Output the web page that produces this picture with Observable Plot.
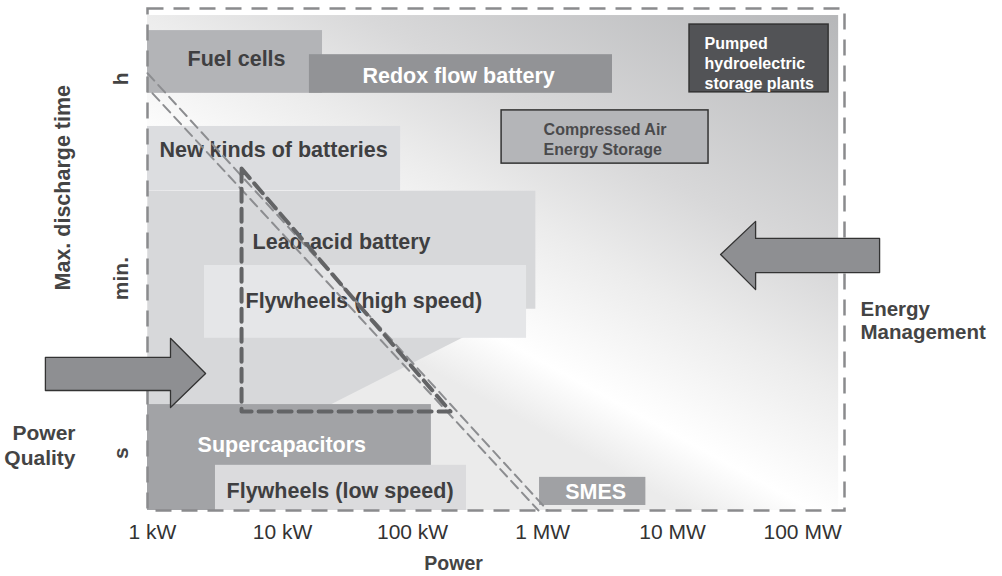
<!DOCTYPE html>
<html><head><meta charset="utf-8">
<script src="https://cdn.jsdelivr.net/npm/d3@7"></script>
<script src="https://cdn.jsdelivr.net/npm/@observablehq/plot@0.6"></script>
<style>
body{margin:0;background:#fff;}
#chart svg{display:block;}
</style></head><body><div id="chart"></div>
<script>
// ---- data (power in kW, discharge time on a 0-100 conceptual scale) ----
const powerTickValues = [1, 10, 100, 1000, 10000, 100000];
const powerTickLabels = ["1 kW", "10 kW", "100 kW", "1 MW", "10 MW", "100 MW"];
const timeTickValues = [11.4, 46.2, 86];
const timeTickLabels = ["s", "min.", "h"];
const powerDomain = [0.915, 210000];
const timeDomain = [0, 100];

const boxNames = ["Fuel cells", "Redox flow battery", "New kinds of batteries", "Flywheels (high speed)",
  "Supercapacitors", "Flywheels (low speed)", "SMES", "Compressed Air Energy Storage", "Pumped hydroelectric storage plants"];
const boxPowerMin = [0.915, 16.1, 0.915, 2.51, 0.915, 3.05, 948, 484, 13500];
const boxPowerMax = [20.3, 3450, 80.9, 753, 139.6, 260, 6230, 18900, 158500];
const boxTimeMin  = [83.1, 83.1, 63.7, 34.3, 0, 0, 1.0, 69.1, 83.3];
const boxTimeMax  = [95.6, 90.8, 76.5, 48.8, 21.1, 9.0, 6.6, 79.7, 96.8];

// lead-acid battery region outline
const leadAcidPower = [0.915, 880, 880, 665, 23.4, 0.915];
const leadAcidTime  = [63.7, 63.7, 40.2, 40.2, 21.1, 21.1];

// labels
const labelText  = ["Fuel cells", "Redox flow battery", "New kinds of batteries", "Lead-acid battery",
  "Flywheels (high speed)", "Supercapacitors", "Flywheels (low speed)", "SMES",
  "Compressed Air\nEnergy Storage", "Pumped\nhydroelectric\nstorage plants"];
const labelPower = [4.43, 226, 1.13, 5.88, 5.19, 2.22, 3.71, 2560, 1018, 17620];
const labelTime  = [90.2, 86.9, 72.1, 53.8, 42.0, 13.3, 4.2, 4.0, 74.1, 89.2];

// guide lines
const lineAPower = [0.915, 1095], lineATime = [87.1, 0];
const lineBPower = [1.0, 930],    lineBTime = [83.1, 0];
const triPower = [4.84, 4.84, 196], triTime = [68.1, 19.7, 19.7];

// arrows
const pqArrowPower = [0.150, 1.375, 1.375, 2.56, 1.375, 1.375, 0.150];
const pqArrowTime  = [30.5, 30.5, 34.3, 27.3, 20.5, 23.9, 23.9];
const emArrowPower = [391000, 43500, 43500, 23400, 43500, 43500, 391000];
const emArrowTime  = [54.2, 54.2, 57.6, 51.0, 44.0, 47.4, 47.4];

const bgPower = [0.915, 189300], bgTime = [0, 98.6];

// ---- styles ----
const boxStyle = {
  "Fuel cells": {fill: "#b3b4b7"},
  "Redox flow battery": {fill: "#929396"},
  "New kinds of batteries": {fill: "#dcdde0"},
  "Flywheels (high speed)": {fill: "#e5e6e8"},
  "Supercapacitors": {fill: "#a2a3a6"},
  "Flywheels (low speed)": {fill: "#dbdbdd"},
  "SMES": {fill: "#a0a1a4"},
  "Compressed Air Energy Storage": {fill: "#b4b5b8", stroke: "#333"},
  "Pumped hydroelectric storage plants": {fill: "#525356", stroke: "#333"}
};
const big = 21.5, small = 16;
const labelStyle = [
  {fill: "#3f3f41", size: big, anchor: "middle"},
  {fill: "#ffffff", size: big, anchor: "middle"},
  {fill: "#3f3f41", size: big, anchor: "start"},
  {fill: "#3f3f41", size: big, anchor: "start"},
  {fill: "#3f3f41", size: big, anchor: "start"},
  {fill: "#ffffff", size: big, anchor: "start"},
  {fill: "#3f3f41", size: big, anchor: "start"},
  {fill: "#ffffff", size: big, anchor: "middle"},
  {fill: "#4a4a4c", size: small, anchor: "start"},
  {fill: "#ffffff", size: small, anchor: "start"}
];
const idx = n => d3.range(n);
const font = "'Liberation Sans', Arial, Helvetica, sans-serif";

const marks = [];
marks.push(Plot.rect([0], {x1: bgPower[0], x2: bgPower[1], y1: bgTime[0], y2: bgTime[1], fill: "url(#bgGrad)"}));
boxNames.slice(0, 3).forEach((n, k) => {
  const i = k;
  marks.push(Plot.rect([i], {x1: i => boxPowerMin[i], x2: i => boxPowerMax[i], y1: i => boxTimeMin[i], y2: i => boxTimeMax[i], fill: boxStyle[n].fill}));
});
marks.push(Plot.line(idx(leadAcidPower.length), {x: i => leadAcidPower[i], y: i => leadAcidTime[i], curve: "linear-closed", fill: "#d7d8da", stroke: "none"}));
boxNames.slice(3).forEach((n, k) => {
  const i = k + 3;
  const s = boxStyle[n];
  marks.push(Plot.rect([i], {x1: i => boxPowerMin[i], x2: i => boxPowerMax[i], y1: i => boxTimeMin[i], y2: i => boxTimeMax[i],
    fill: s.fill, stroke: s.stroke || "none", strokeWidth: 1.5}));
});
labelText.forEach((t, i) => {
  const s = labelStyle[i];
  marks.push(Plot.text([i], {x: i => labelPower[i], y: i => labelTime[i], text: i => labelText[i],
    fill: s.fill, fontSize: s.size, fontWeight: "bold", textAnchor: s.anchor, lineAnchor: "middle", lineHeight: 1.25}));
});
// guide lines
marks.push(Plot.line(idx(2), {x: i => lineAPower[i], y: i => lineATime[i], stroke: "#8c8d90", strokeWidth: 2, strokeDasharray: "10,6"}));
marks.push(Plot.line(idx(2), {x: i => lineBPower[i], y: i => lineBTime[i], stroke: "#8c8d90", strokeWidth: 2, strokeDasharray: "10,6"}));
marks.push(Plot.line(idx(3), {x: i => triPower[i], y: i => triTime[i], curve: "linear-closed", stroke: "#636466", strokeWidth: 4, strokeDasharray: "13,7"}));
// frame
marks.push(Plot.frame({stroke: "#8a8b8d", strokeWidth: 2.5, strokeDasharray: "16,10"}));
// arrows
marks.push(Plot.line(idx(7), {x: i => pqArrowPower[i], y: i => pqArrowTime[i], curve: "linear-closed", fill: "#8e8f92", stroke: "#333", strokeWidth: 1.3}));
marks.push(Plot.line(idx(7), {x: i => emArrowPower[i], y: i => emArrowTime[i], curve: "linear-closed", fill: "#8e8f92", stroke: "#333", strokeWidth: 1.3}));
// axes text
marks.push(Plot.text(powerTickValues, {x: d => d, frameAnchor: "bottom", dy: 22, lineAnchor: "middle", text: (d, i) => powerTickLabels[i], fontSize: 21, fill: "#333", textAnchor: "middle"}));
marks.push(Plot.text(["Power"], {x: [207], frameAnchor: "bottom", dy: 53, lineAnchor: "middle", text: d => d, fontSize: 19.5, fontWeight: "bold", fill: "#444", textAnchor: "middle"}));
marks.push(Plot.text(timeTickValues, {y: d => d, frameAnchor: "left", dx: -26, rotate: -90, textAnchor: "middle", text: (d, i) => timeTickLabels[i], fontSize: 21, fontWeight: "bold", fill: "#444"}));
marks.push(Plot.text(["Max. discharge time"], {y: [64.3], frameAnchor: "left", dx: -84, rotate: -90, textAnchor: "middle", text: d => d, fontSize: 21.5, fontWeight: "bold", fill: "#444"}));
marks.push(Plot.text(["Power\nQuality"], {y: [13.1], frameAnchor: "left", dx: -72, textAnchor: "end", text: d => d, fontSize: 21, fontWeight: "bold", fill: "#444", lineHeight: 1.15}));
marks.push(Plot.text(["Energy\nManagement"], {y: [38.0], frameAnchor: "right", dx: 16, textAnchor: "start", text: d => d, fontSize: 20.5, fontWeight: "bold", fill: "#444", lineHeight: 1.12}));

const svg = Plot.plot({
  width: 1002, height: 576,
  marginLeft: 147, marginRight: 158, marginTop: 8, marginBottom: 66,
  x: {type: "log", domain: powerDomain, axis: null},
  y: {domain: timeDomain, axis: null},
  style: {fontFamily: font, background: "#fff", overflow: "visible"},
  marks
});
const defs = d3.select(svg).insert("defs", ":first-child");
const g = defs.append("linearGradient").attr("id", "bgGrad").attr("gradientUnits", "userSpaceOnUse")
  .attr("x1", 591).attr("y1", 458).attr("x2", 835).attr("y2", 13);
[[0, "#ebebeb"], [0.12, "#ffffff"], [0.35, "#ececec"], [0.55, "#d8d8d9"], [1, "#b6b7b9"]]
  .forEach(([o, c]) => g.append("stop").attr("offset", o).attr("stop-color", c));
document.getElementById("chart").appendChild(svg);
</script></body></html>
